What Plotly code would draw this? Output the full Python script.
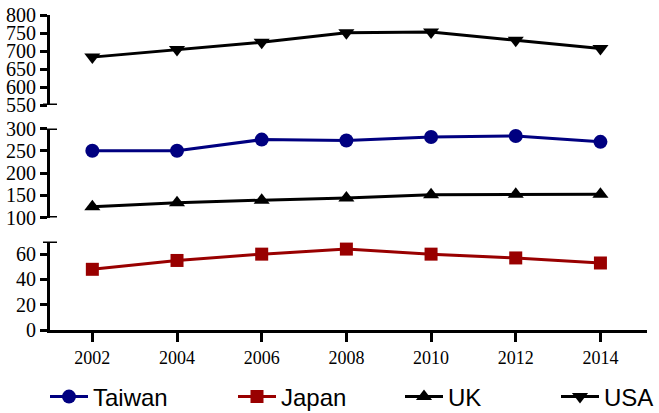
import plotly.graph_objects as go

years = [2002, 2004, 2006, 2008, 2010, 2012, 2014]
taiwan = [250, 250, 275, 273, 281, 283, 270]
japan = [48, 55, 60, 64, 60, 57, 53]
uk = [124, 133, 139, 144, 151, 152, 152]
usa = [683, 704, 724, 751, 753, 730, 707]

NAVY = "#000080"
RED = "#990000"
BLACK = "#000000"

SERIF = "Times New Roman, Liberation Serif, serif"
SANS = "Arial, Liberation Sans, sans-serif"

fig = go.Figure()

def add_series(name, y, color, symbol, yaxis, legend, size):
    fig.add_trace(go.Scatter(
        x=years, y=y, name=name, mode="lines+markers",
        line=dict(color=color, width=3),
        marker=dict(symbol=symbol, size=size, color=color),
        yaxis=yaxis, legend=legend, cliponaxis=False,
    ))

add_series("Taiwan", taiwan, NAVY, "circle", "y2", "legend", 14)
add_series("Japan", japan, RED, "square", "y", "legend2", 13)
add_series("UK", uk, BLACK, "triangle-up", "y2", "legend3", 14)
add_series("USA", usa, BLACK, "triangle-down", "y3", "legend4", 14)


def yaxis_style(domain, rng, ticks):
    return dict(
        domain=domain, range=rng, tickvals=ticks,
        ticktext=[str(t) for t in ticks],
        showline=True, linewidth=3, linecolor="black",
        ticks="outside", ticklen=7, tickwidth=3, tickcolor="black",
        showgrid=False, zeroline=False,
        tickfont=dict(family=SERIF, size=20, color="black"),
        anchor="x", fixedrange=True, automargin=False,
    )


# Plot area spans x 50..647 px and y 15..330 px
L, R, T, B = 50, 12, 15, 83
W, H = 659, 413
plot_w = W - L - R
plot_h = H - T - B

def py(px):
    return (H - B - px) / plot_h

def px_x(px):
    return (px - L) / plot_w

d_bot = [0, py(241.5)]
d_mid = [py(217.5), py(128.5)]
d_top = [py(105), 1]

fig.update_layout(
    template="none",
    font=dict(family=SERIF, size=20, color="black"),
    width=W, height=H,
    margin=dict(l=L, r=R, t=T, b=B, autoexpand=False),
    paper_bgcolor="white", plot_bgcolor="white",
    showlegend=True,
    xaxis=dict(
        range=[2001, 2015.1], tickvals=years, ticktext=[str(v) for v in years],
        showline=True, linewidth=3, linecolor="black",
        ticks="outside", ticklen=9, tickwidth=3, tickcolor="black",
        showgrid=False, zeroline=False, automargin=False,
        tickfont=dict(family=SERIF, size=18, color="black"),
        anchor="y", domain=[0, 1],
    ),
    yaxis=yaxis_style(d_bot, [0, 70], [0, 20, 40, 60]),
    yaxis2=yaxis_style(d_mid, [100, 300], [100, 150, 200, 250, 300]),
    yaxis3=yaxis_style(d_top, [550, 800], [550, 600, 650, 700, 750, 800]),
)

legend_pos = {"legend": 45, "legend2": 233, "legend3": 400, "legend4": 556}
for key, xpx in legend_pos.items():
    fig.update_layout({key: dict(
        x=px_x(xpx), xanchor="left", y=py(397), yanchor="middle",
        orientation="h", font=dict(family=SANS, size=24, color="black"),
        bgcolor="rgba(0,0,0,0)", borderwidth=0, itemwidth=38,
    )})

# small caps at the ends of each broken axis segment
caps = [("y3", 550), ("y2", 300), ("y2", 100), ("y", 70)]
for yref, val in caps:
    fig.add_shape(type="line", xref="paper", yref=yref,
                  x0=px_x(43), x1=px_x(57), y0=val, y1=val,
                  line=dict(color="black", width=3))

fig.write_html("out.html")
